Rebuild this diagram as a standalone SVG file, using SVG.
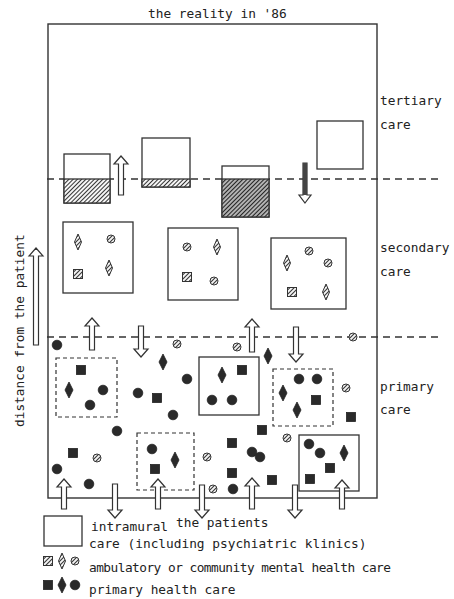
<svg xmlns="http://www.w3.org/2000/svg" xmlns:xlink="http://www.w3.org/1999/xlink" width="454" height="599" viewBox="0 0 454 599">
<style>
text{font-family:"DejaVu Sans Mono","Liberation Mono",monospace;font-size:12.8px;fill:#222}
.frame{fill:none;stroke:#333;stroke-width:1.4}
.box{fill:#fff;stroke:#333;stroke-width:1.3}
.dbox{fill:none;stroke:#333;stroke-width:1.2;stroke-dasharray:4 3}
.dash{stroke:#333;stroke-width:1.3;stroke-dasharray:7 5;fill:none}
.arr{fill:#fff;stroke:#333;stroke-width:1.2;stroke-linejoin:miter}
.dk{fill:#2a2a2a;stroke:#222;stroke-width:0.8}
.ht{fill:url(#h);stroke:#333;stroke-width:1}
</style>
<defs>
<pattern id="h" width="3" height="3" patternUnits="userSpaceOnUse" patternTransform="rotate(45)">
<rect width="3" height="3" fill="#fff"/><line x1="1.5" y1="0" x2="1.5" y2="3" stroke="#333" stroke-width="1.1"/>
</pattern>
<pattern id="h2" width="3" height="3" patternUnits="userSpaceOnUse" patternTransform="rotate(45)">
<rect width="3" height="3" fill="#fff"/><line x1="1.5" y1="0" x2="1.5" y2="3" stroke="#222" stroke-width="1.7"/>
</pattern>
<circle id="dc" r="4.8" class="dk"/>
<rect id="ds" x="-4.5" y="-4.5" width="9" height="9" class="dk"/>
<path id="dd" d="M0,-8 L4,0 L0,8 L-4,0 Z" class="dk"/>
<circle id="hc" r="4" class="ht"/>
<rect id="hs" x="-4.5" y="-4.5" width="9" height="9" class="ht"/>
<path id="hd" d="M0,-8 L3.5,0 L0,8 L-3.5,0 Z" class="ht"/>
</defs>
<rect width="454" height="599" fill="#fff"/>

<text x="148" y="18">the reality in '86</text>
<rect class="frame" x="48" y="24" width="329" height="474"/>

<g id="levels">
<line class="dash" x1="47" y1="179" x2="442" y2="179"/>
<line class="dash" x1="47" y1="337" x2="442" y2="337"/>
<text x="380" y="105">tertiary</text>
<text x="380" y="129">care</text>
<text x="380" y="252">secondary</text>
<text x="380" y="276">care</text>
<text x="380" y="391">primary</text>
<text x="380" y="414">care</text>
</g>

<g id="tertiary">
<rect class="box" x="64" y="154" width="46" height="49"/>
<rect x="64" y="179" width="46" height="24" fill="url(#h)" stroke="#333" stroke-width="1.3"/>
<rect class="box" x="142" y="138" width="48" height="49"/>
<rect x="142" y="179" width="48" height="8" fill="url(#h)" stroke="#333" stroke-width="1.3"/>
<rect class="box" x="222" y="166" width="47" height="51"/>
<rect x="222" y="179" width="47" height="38" fill="url(#h2)" stroke="#333" stroke-width="1.3"/>
<rect class="box" x="317" y="121" width="46" height="48"/>
</g>

<g id="secondary">
<rect class="box" x="63" y="222" width="70" height="71"/>
<use href="#hd" x="78" y="242"/><use href="#hc" x="111" y="239"/><use href="#hs" x="78" y="274"/><use href="#hd" x="109" y="268"/>
<rect class="box" x="168" y="228" width="70" height="72"/>
<use href="#hc" x="187" y="247"/><use href="#hd" x="217" y="247"/><use href="#hs" x="187" y="277"/><use href="#hc" x="214" y="281"/>
<rect class="box" x="271" y="238" width="75" height="71"/>
<use href="#hd" x="287" y="263"/><use href="#hc" x="309" y="251"/><use href="#hc" x="328" y="263"/><use href="#hs" x="292" y="292"/><use href="#hd" x="326" y="292"/>
<use href="#hc" x="353" y="337"/>
</g>

<g id="primary">
<use href="#dc" x="57" y="345"/><use href="#hc" x="177" y="344"/><use href="#hc" x="237" y="347"/><use href="#dd" x="163" y="362"/><use href="#dd" x="268" y="356"/>
<rect class="dbox" x="56" y="358" width="61" height="59"/>
<use href="#ds" x="81" y="370"/><use href="#dd" x="69" y="390"/><use href="#dc" x="103" y="390"/><use href="#dc" x="90" y="405"/>
<rect class="box" x="199" y="357" width="60" height="58" fill="none"/>
<use href="#dd" x="222" y="375"/><use href="#ds" x="242" y="370"/><use href="#dc" x="212" y="400"/><use href="#dc" x="232" y="400"/>
<rect class="dbox" x="273" y="369" width="60" height="57"/>
<use href="#dc" x="299" y="379"/><use href="#dc" x="317" y="379"/><use href="#dd" x="283" y="393"/><use href="#ds" x="316" y="400"/><use href="#dd" x="297" y="410"/>
<use href="#dc" x="187" y="379"/><use href="#dc" x="138" y="393"/><use href="#ds" x="157" y="398"/><use href="#dc" x="173" y="415"/><use href="#hc" x="346" y="388"/><use href="#ds" x="351" y="417"/><use href="#dc" x="117" y="431"/><use href="#ds" x="262" y="430"/><use href="#hc" x="287" y="438"/>
<rect class="dbox" x="137" y="433" width="57" height="57"/>
<use href="#dc" x="152" y="449"/><use href="#dd" x="175" y="460"/><use href="#ds" x="155" y="469"/>
<use href="#ds" x="73" y="453"/><use href="#hc" x="97" y="458"/><use href="#dc" x="57" y="469"/><use href="#dc" x="89" y="484"/><use href="#hc" x="207" y="457"/><use href="#ds" x="232" y="443"/><use href="#dc" x="252" y="452"/><use href="#dc" x="260" y="457"/><use href="#ds" x="232" y="473"/><use href="#ds" x="272" y="480"/><use href="#hc" x="213" y="489"/><use href="#dc" x="233" y="489"/>
<rect class="box" x="299" y="435" width="60" height="56" fill="none"/>
<use href="#dc" x="309" y="444"/><use href="#dc" x="320" y="453"/><use href="#dd" x="344" y="453"/><use href="#ds" x="330" y="468"/><use href="#ds" x="310" y="479"/>
</g>

<g id="connectors">
<polygon class="arr" points="121,156 128,164 123.5,164 123.5,195 118.5,195 118.5,164 114,164"/>
<polygon class="arr" points="305,203 311,195 307,195 307,163 303,163 303,195 299,195"/>
<rect x="303" y="163" width="4" height="32" fill="#444"/>
<polygon class="arr" points="92,318 99,326 94.5,326 94.5,350 89.5,350 89.5,326 85,326"/>
<polygon class="arr" points="141,357 148,349 143.5,349 143.5,326 138.5,326 138.5,349 134,349"/>
<polygon class="arr" points="252,319 259,327 254.5,327 254.5,352 249.5,352 249.5,327 245,327"/>
<polygon class="arr" points="296,362 303,354 298.5,354 298.5,327 293.5,327 293.5,354 289,354"/>
<polygon class="arr" points="64,479 71,487 66.5,487 66.5,509 61.5,509 61.5,487 57,487"/>
<polygon class="arr" points="115,518 122,510 117.5,510 117.5,484 112.5,484 112.5,510 108,510"/>
<polygon class="arr" points="158,479 165,487 160.5,487 160.5,509 155.5,509 155.5,487 151,487"/>
<polygon class="arr" points="202,518 209,510 204.5,510 204.5,485 199.5,485 199.5,510 195,510"/>
<polygon class="arr" points="252,478 259,486 254.5,486 254.5,509 249.5,509 249.5,486 245,486"/>
<polygon class="arr" points="295,518 302,510 297.5,510 297.5,485 292.5,485 292.5,510 288,510"/>
<polygon class="arr" points="342,480 349,488 344.5,488 344.5,509 339.5,509 339.5,488 335,488"/>
<polygon class="arr" points="36,248 43,256 38.5,256 38.5,345 33.5,345 33.5,256 29,256"/>
</g>

<text transform="translate(24,427) rotate(-90)">distance from the patient</text>
<text x="176" y="527">the patients</text>

<g id="legend">
<rect class="box" x="44" y="516" width="38" height="30"/>
<text x="91" y="531">intramural</text>
<text x="89" y="548">care (including psychiatric klinics)</text>
<use href="#hs" x="48" y="561"/><use href="#hd" x="62" y="561"/><use href="#hc" x="75" y="561"/>
<text x="89" y="572" textLength="302" lengthAdjust="spacing">ambulatory or community mental health care</text>
<use href="#ds" x="48" y="585"/><use href="#dd" x="62" y="585"/><use href="#dc" x="75" y="585"/>
<text x="89" y="594">primary health care</text>
</g>
</svg>
